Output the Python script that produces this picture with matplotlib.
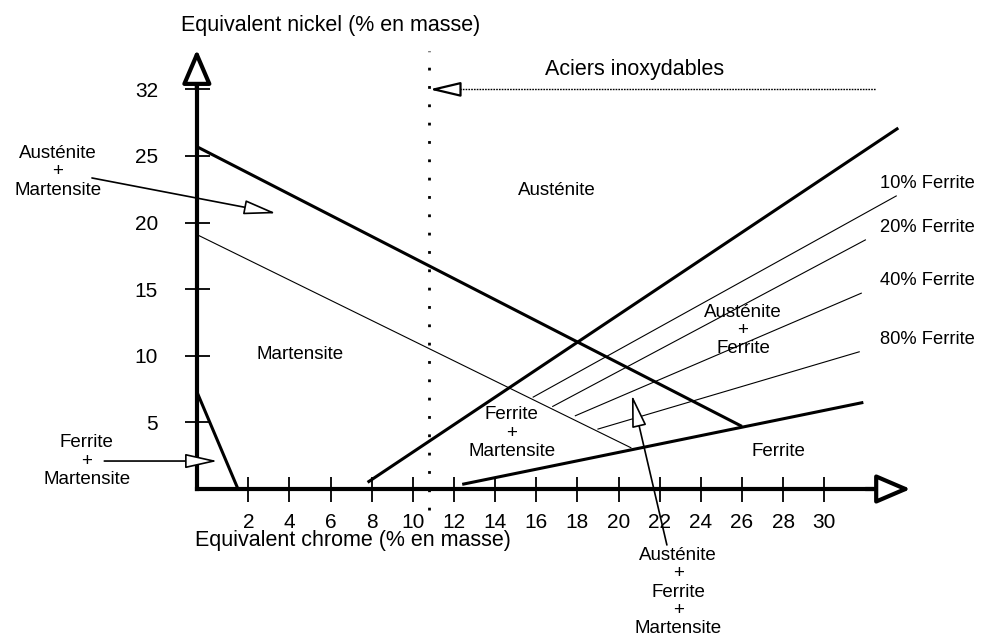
import matplotlib
matplotlib.use("Agg")
from matplotlib import pyplot as plt

plt.rcParams["font.family"] = ["Liberation Sans", "DejaVu Sans"]

# Schaeffler diagram: boundaries as (Cr eq, Ni eq) end points
x0 = -0.5  # position of the Ni eq axis
aust_mart_cr = [x0, 26.0]
aust_mart_ni = [25.7, 4.7]
mart_limit_cr = [x0, 20.6]
mart_limit_ni = [19.1, 3.1]
ferr_mart_cr = [x0, 1.5]
ferr_mart_ni = [7.3, 0.0]
aust_ferr_cr = [7.8, 33.6]
aust_ferr_ni = [0.5, 27.1]
ferrite_cr = [12.4, 31.9]
ferrite_ni = [0.35, 6.5]

# iso-ferrite lines
ferrite_pct = ["10% Ferrite", "20% Ferrite", "40% Ferrite", "80% Ferrite"]
iso_cr_start = [15.85, 16.8, 17.9, 19.0]
iso_ni_start = [6.9, 6.2, 5.5, 4.5]
iso_cr_end = [33.5, 32.0, 31.8, 31.7]
iso_ni_end = [22.0, 18.7, 14.7, 10.3]

stainless_cr = 10.8
stainless_ni = 30

x_ticks = list(range(2, 31, 2))
y_ticks = [5, 10, 15, 20, 25, 30]
y_tick_labels = ["5", "10", "15", "20", "25", "32"]

fig = plt.figure(figsize=(9.81, 6.39), dpi=100)
ax = fig.add_axes([0, 0, 1, 1])
ax.set_xlim(-10.07, 37.62)
ax.set_ylim(-11.26, 36.71)
ax.patch.set_visible(False)

for s in ["top", "right"]:
    ax.spines[s].set_visible(False)
ax.spines["left"].set_position(("data", x0))
ax.spines["bottom"].set_position(("data", 0))
ax.spines["left"].set_bounds(0, 30.9)
ax.spines["bottom"].set_bounds(x0, 32.8)
for s in ["left", "bottom"]:
    ax.spines[s].set_linewidth(3)
ax.set_xticks(x_ticks)
ax.set_xticklabels([str(t) for t in x_ticks])
ax.set_yticks(y_ticks)
ax.set_yticklabels(y_tick_labels)
ax.tick_params(axis="both", direction="inout", length=18, width=1.3, labelsize=15)
ax.tick_params(axis="x", pad=8)
ax.tick_params(axis="y", pad=19)

# axis arrow heads
ax.annotate("", xy=(x0, 33.0), xytext=(x0, 30.0),
            arrowprops=dict(arrowstyle="-|>,head_length=2.1,head_width=0.9", lw=3,
                            fc="white", ec="black", shrinkA=0, shrinkB=0, mutation_scale=10))
ax.annotate("", xy=(34.2, 0), xytext=(32.0, 0),
            arrowprops=dict(arrowstyle="-|>,head_length=2.1,head_width=0.9", lw=3,
                            fc="white", ec="black", shrinkA=0, shrinkB=0, mutation_scale=10))

# phase boundaries
thick = dict(color="black", lw=2.2, solid_capstyle="butt")
thin = dict(color="black", lw=0.8)
ax.plot(aust_mart_cr, aust_mart_ni, **thick)
ax.plot(mart_limit_cr, mart_limit_ni, **thin)
ax.plot(ferr_mart_cr, ferr_mart_ni, **thick)
ax.plot(aust_ferr_cr, aust_ferr_ni, **thick)
ax.plot(ferrite_cr, ferrite_ni, **thick)
for lab, xs, ys, xe, ye in zip(ferrite_pct, iso_cr_start, iso_ni_start, iso_cr_end, iso_ni_end):
    ax.plot([xs, xe], [ys, ye], **thin)
    ax.text(32.7, ye + 0.95, lab, fontsize=13.2, ha="left", va="center")

# stainless steel limit
ax.plot([stainless_cr, stainless_cr], [-1.6, 32.9], color="black", lw=2,
        linestyle=(0, (1.0, 5.6)))
ax.plot([stainless_cr + 1.2, 32.5], [stainless_ni, stainless_ni], color="black", lw=1,
        linestyle=(0, (1.2, 0.8)))
ax.annotate("", xy=(stainless_cr, stainless_ni), xytext=(stainless_cr + 1.35, stainless_ni),
            arrowprops=dict(arrowstyle="-|>,head_length=1.9,head_width=0.45", lw=1.6,
                            fc="white", ec="black", shrinkA=0, shrinkB=0, mutation_scale=10))
ax.text(20.8, 31.5, "Aciers inoxydables", fontsize=15.5, ha="center", va="center")

# axis titles
ax.text(6.0, 34.8, "Equivalent nickel (% en masse)", fontsize=15.5, ha="center", va="center")
ax.text(7.1, -3.85, "Equivalent chrome (% en masse)", fontsize=15.5, ha="center", va="center")

# phase field labels
lbl = dict(fontsize=13.5, ha="center", va="center", linespacing=1.1)
ax.text(17.0, 22.4, "Austénite", **lbl)
ax.text(4.5, 10.1, "Martensite", **lbl)
ax.text(14.8, 4.2, "Ferrite\n+\nMartensite", **lbl)
ax.text(26.05, 11.9, "Austénite\n+\nFerrite", **lbl)
ax.text(27.75, 2.8, "Ferrite", **lbl)
ax.text(-7.25, 23.8, "Austénite\n+\nMartensite", **lbl)
ax.text(-5.85, 2.1, "Ferrite\n+\nMartensite", **lbl)
ax.text(22.9, -7.75, "Austénite\n+\nFerrite\n+\nMartensite", **lbl)

pointer = dict(arrowstyle="-|>,head_length=2.0,head_width=0.45", lw=1.2,
               fc="white", ec="black", shrinkA=0, shrinkB=0, mutation_scale=10)
ax.annotate("", xy=(3.35, 20.7), xytext=(-5.6, 23.35), arrowprops=pointer)
ax.annotate("", xy=(0.5, 2.1), xytext=(-5.0, 2.1), arrowprops=pointer)
ax.annotate("", xy=(20.65, 7.06), xytext=(22.35, -4.2), arrowprops=pointer)

fig.savefig("out.png", dpi=100)
